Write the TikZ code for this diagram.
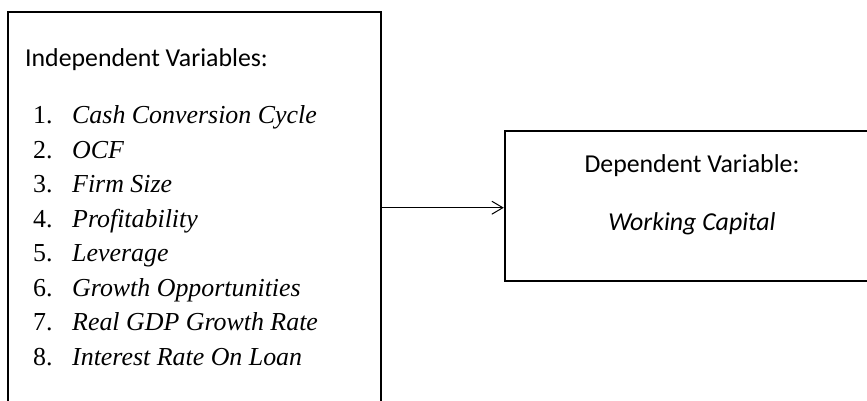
\documentclass[tikz,border=0pt]{standalone}
\usepackage{fontspec}
\setmainfont{Liberation Serif}
\newfontfamily\calibri{Carlito}
\usetikzlibrary{arrows.meta}
\begin{document}
\begin{tikzpicture}[x=1pt,y=-1pt,
  boxstyle/.style={draw, line width=1.8pt, inner sep=0pt},
  headtext/.style={anchor=base west, inner sep=0pt, font=\calibri\fontsize{25.8}{30}\selectfont},
  numtext/.style={anchor=base west, inner sep=0pt, font=\fontsize{25.9}{30}\selectfont},
  itemtext/.style={anchor=base west, inner sep=0pt, font=\itshape\fontsize{25.9}{30}\selectfont},
  deptext/.style={anchor=base, inner sep=0pt, font=\calibri\fontsize{25.8}{30}\selectfont},
  link/.style={line width=1pt, -{Straight Barb[length=11pt,width=13pt]}}]
\useasboundingbox (0,0) rectangle (867,400);
\clip (0,0) rectangle (867,400);
\fill[white] (0,0) rectangle (867,400);
% boxes
\node[boxstyle, minimum width=373pt, minimum height=400pt] (lbox) at (194.5,212) {};
\node[boxstyle, minimum width=376pt, minimum height=150pt] (rbox) at (692.7,206) {};
% left texts
\node[headtext] (hl) at (25,66) {Independent Variables:};
\foreach \i/\t/\y in {1/Cash Conversion Cycle/123.3, 2/OCF/158.3, 3/Firm Size/192.7, 4/Profitability/227.3, 5/Leverage/261.7, 6/Growth Opportunities/296, 7/Real GDP Growth Rate/330.5, 8/Interest Rate On Loan/365}{
  \node[numtext] (n\i) at (33,\y) {\i.};
  \node[itemtext] (t\i) at (72,\y) {\t};
}
% right texts
\node[deptext] (hr) at (692,172) {Dependent Variable:};
\node[deptext] (wc) at (692,230.7) {\itshape Working Capital};
% connector
\coordinate (a0) at (lbox.east |- 0,207.7);
\coordinate (a1) at (rbox.west |- 0,207.7);
\draw[link] (a0) -- (a1);
\end{tikzpicture}
\end{document}
